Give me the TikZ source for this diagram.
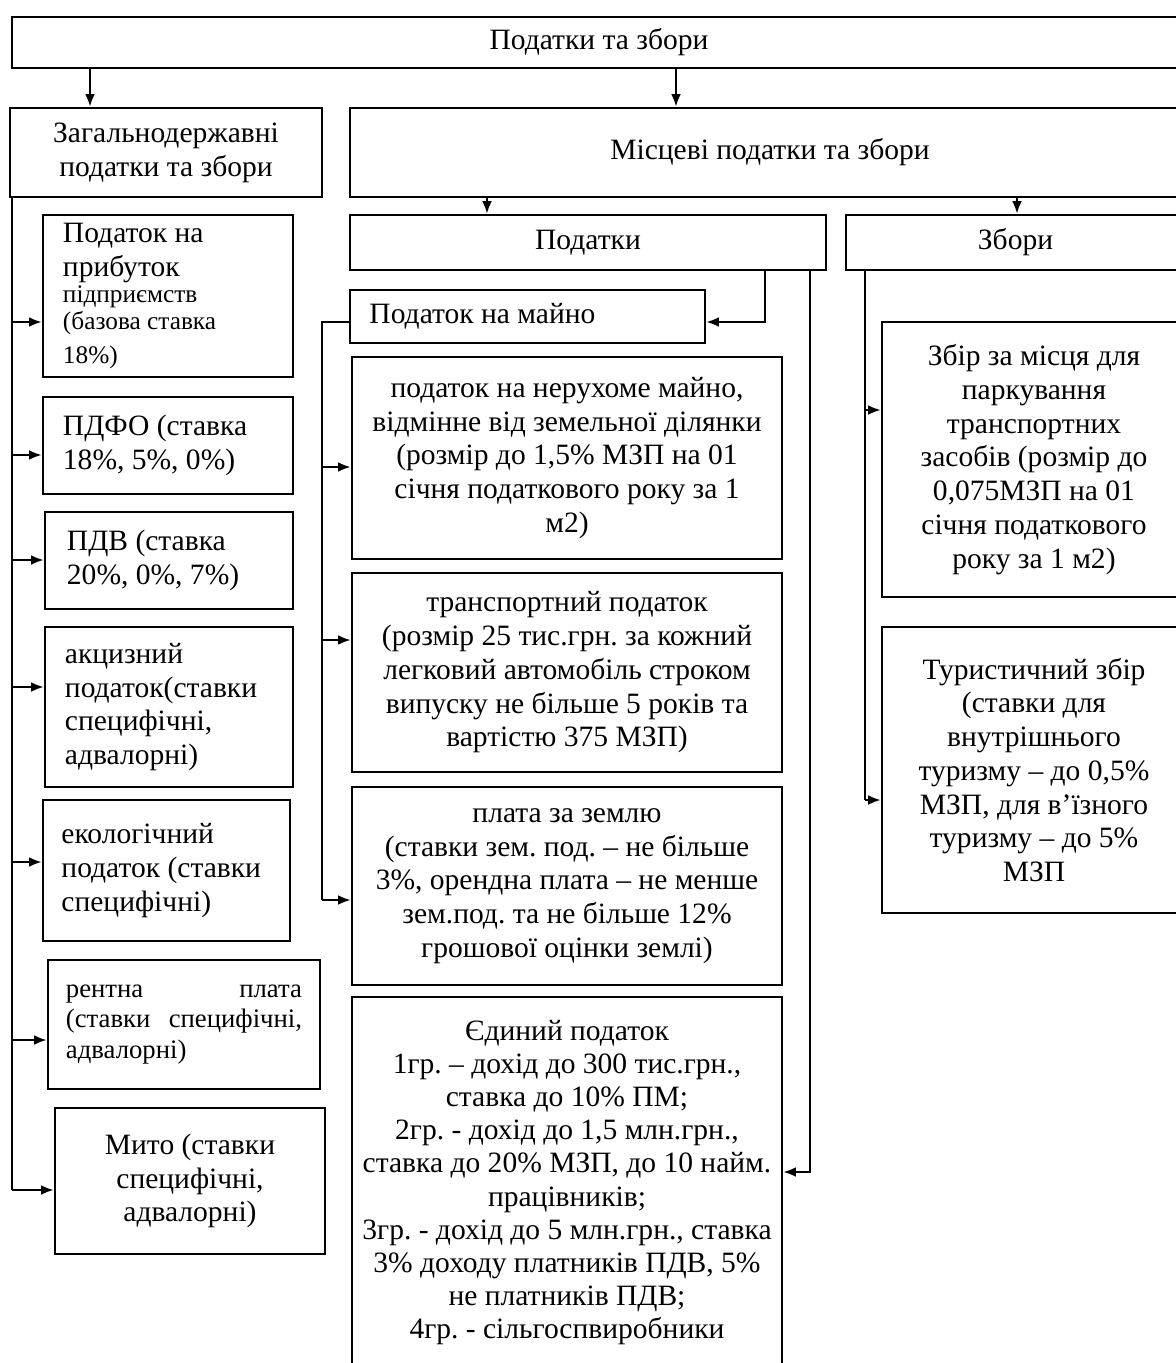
\documentclass[tikz,border=0pt]{standalone}
\usepackage{fontspec}
\setmainfont{Liberation Serif}
\frenchspacing
\usetikzlibrary{positioning,arrows.meta,calc}

\begin{document}
\begin{tikzpicture}[x=0.025cm,y=-0.025cm,
	box/.style={draw,line width=1.8pt,inner sep=0pt,font=\fontsize{21}{24}\selectfont},
	cbox/.style={box,align=center},
	lbox/.style={box,align=flush left},
	link/.style={line width=1.5pt},
	>={Latex[length=9pt,width=7pt]}
	]
	\clip (0,0) rectangle (1176,1363);
	
	% the top levels
	\node[cbox,minimum width=29.35cm,minimum height=1.275cm] (top) at (599,42.5) {Податки та збори};
	\node[cbox,minimum width=7.8cm,minimum height=2.225cm] (gen) at (166,152.5) {Загальнодержавні\\ податки та збори};
	\node[cbox,minimum width=21cm,minimum height=2.225cm] (loc) at (770,152.5) {Місцеві податки та збори};
	\node[cbox,minimum width=11.9cm,minimum height=1.375cm] (tax) at (588,242.5) {Податки};
	\node[cbox,minimum width=8.475cm,minimum height=1.375cm] (fee) at (1015.5,242.5) {Збори};
	\node[lbox,text width=7.9cm,minimum width=8.875cm,minimum height=1.325cm] (prop) at (527.5,316.5) {Податок на майно};
	
	% the general taxes
	\node[lbox,text width=5.25cm,minimum width=6.25cm,minimum height=4.05cm] (g1) at (168,296) {Податок на\\ прибуток\\ \fontsize{18}{19}\selectfont підприємств\\ \fontsize{18}{19}\selectfont (базова ставка\\ \fontsize{18}{19}\selectfont 18\%)};
	\node[lbox,text width=5.25cm,minimum width=6.25cm,minimum height=2.425cm] (g2) at (168,445.5) {ПДФО (ставка\\ 18\%, 5\%, 0\%)};
	\node[lbox,text width=5.1cm,minimum width=6.2cm,minimum height=2.425cm] (g3) at (169,560.5) {ПДВ (ставка\\ 20\%, 0\%, 7\%)};
	\node[lbox,text width=5.2cm,minimum width=6.2cm,minimum height=4cm] (g4) at (169,707) {акцизний\\ податок(ставки\\ специфічні,\\ адвалорні)};
	\node[lbox,text width=5.25cm,minimum width=6.175cm,minimum height=3.525cm] (g5) at (166.5,870.5) {екологічний\\ податок (ставки\\ специфічні)};
	\node[lbox,text width=5.9cm,minimum width=6.8cm,minimum height=3.225cm,font=\fontsize{19}{22}\selectfont] (g6) at (184,1024.5) {рентна\hfill плата\\ (ставки\hfill специфічні,\\ адвалорні)};
	\node[cbox,minimum width=6.75cm,minimum height=3.65cm] (g7) at (190,1181) {Мито (ставки\\ специфічні,\\ адвалорні)};
	
	% the local taxes
	\node[cbox,minimum width=10.75cm,minimum height=5.05cm] (m1) at (567,458) {податок на нерухоме майно,\\ відмінне від земельної ділянки\\ (розмір до 1,5\% МЗП на 01\\ січня податкового року за 1\\ м2)};
	\node[cbox,minimum width=10.75cm,minimum height=4.975cm] (m2) at (567,672.5) {транспортний податок\\ (розмір 25 тис.грн. за кожний\\ легковий автомобіль строком\\ випуску не більше 5 років та\\ вартістю 375 МЗП)};
	\node[cbox,minimum width=10.75cm,minimum height=4.95cm] (m3) at (567,886) {плата за землю\\ (ставки зем. под. – не більше\\ 3\%, орендна плата – не менше\\ зем.под. та не більше 12\%\\ грошової оцінки землі)};
	\node[cbox,minimum width=10.75cm,minimum height=9.275cm,font=\fontsize{21}{23.5}\selectfont] (m4) at (567,1182.5) {Єдиний податок\\ 1гр. – дохід до 300 тис.грн.,\\ ставка до 10\% ПМ;\\ 2гр. - дохід до 1,5 млн.грн.,\\ ставка до 20\% МЗП, до 10 найм.\\ працівників;\\ 3гр. - дохід до 5 млн.грн., ставка\\ 3\% доходу платників ПДВ, 5\%\\ не платників ПДВ;\\ 4гр. - сільгоспвиробники};
	
	% the local fees
	\node[cbox,minimum width=7.6cm,minimum height=6.875cm] (z1) at (1034,459.5) {Збір за місця для\\ паркування\\ транспортних\\ засобів (розмір до\\ 0,075МЗП на 01\\ січня податкового\\ року за 1 м2)};
	\node[cbox,minimum width=7.6cm,minimum height=7.15cm] (z2) at (1034,770) {Туристичний збір\\ (ставки для\\ внутрішнього\\ туризму – до 0,5\%\\ МЗП, для в'їзного\\ туризму – до 5\%\\ МЗП};
	
	% the edges
	\draw[link,->] (top.south -| 90,0) -- (gen.north -| 90,0);
	\draw[link,->] (top.south -| 676,0) -- (loc.north -| 676,0);
	\draw[link,->] (loc.south -| 487,0) -- (tax.north -| 487,0);
	\draw[link,->] (loc.south -| 1017,0) -- (fee.north -| 1017,0);
	\draw[link,->] (tax.south -| 765,0) |- (prop.east |- 0,322);
	\draw[link,->] (tax.south -| 810,0) |- (m4.east |- 0,1172);
	
	\draw[link] (gen.south -| 12,0) coordinate (gl) -- (gl |- 0,1190);
	\foreach \n/\y in {g1/322,g2/455,g3/560,g4/687,g5/862,g6/1040,g7/1190}
	\draw[link,->] (gl |- 0,\y) -- (\n.west |- 0,\y);
	
	\draw[link] (prop.west |- 0,322) -- ++(-27,0) coordinate (pl) -- (pl |- 0,900);
	\foreach \n/\y in {m1/467,m2/640,m3/900}
	\draw[link,->] (pl |- 0,\y) -- (\n.west |- 0,\y);
	
	\draw[link] (fee.south -| 865,0) coordinate (fl) -- (fl |- 0,800);
	\foreach \n/\y in {z1/410,z2/800}
	\draw[link,->] (fl |- 0,\y) -- (\n.west |- 0,\y);
\end{tikzpicture}
\end{document}
